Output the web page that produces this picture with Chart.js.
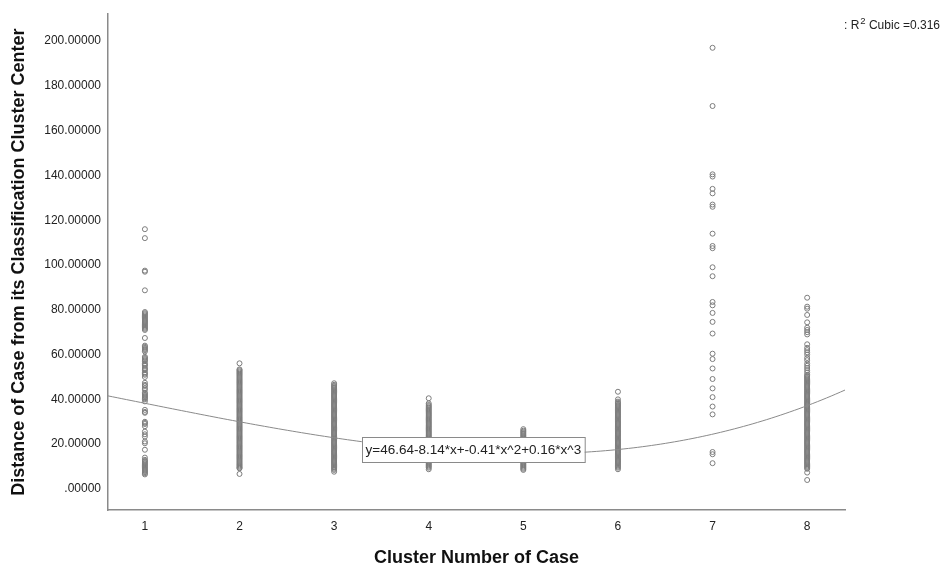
<!DOCTYPE html>
<html>
<head>
<meta charset="utf-8">
<script src="https://cdn.jsdelivr.net/npm/chart.js@4.4.1/dist/chart.umd.min.js"></script>
<style>
  html, body { margin: 0; padding: 0; background: #fff; overflow: hidden; }
  #wrap { width: 941px; height: 564px; }
</style>
</head>
<body>
<div id="wrap"><canvas id="scatterChart" width="941" height="564"></canvas></div>
<script>
// cluster numbers on the x axis
const clusters = [1, 2, 3, 4, 5, 6, 7, 8];
const yTicks = [0, 20, 40, 60, 80, 100, 120, 140, 160, 180, 200];

// distance of each case from its cluster centre
const cluster1 = [116, 112, 97.5, 97, 88.7, 79, 78.5, 78, 77.5, 77, 76.5, 76, 75.5, 75, 74.5, 74, 73.5, 73, 72.5, 72, 71.5, 71,
  67.4, 64, 63.5, 63, 62.5, 62, 61.4, 59, 58.5, 58, 57.5, 57, 56, 55.5, 55, 54, 53.5, 53, 52, 51.5, 51, 50, 47.4, 46.5, 46, 45, 44.3,
  43, 42.5, 42, 41.5, 41, 40.5, 40, 39.1, 35.3, 34.4, 34, 30, 29.5, 29, 28, 25.6, 24.4, 23.4, 21.2, 20.4, 17.5,
  14, 13, 12.5, 12, 11.5, 11, 10.5, 10, 9.5, 9, 8.5, 8, 7.5, 7, 6.5];
const cluster2 = [6.7, 9.2, 9.5, 10, 10.5, 11, 11.5, 12, 12.5, 13, 13.5, 14, 14.5, 15, 15.5, 16, 16.5, 17, 17.5, 18, 18.5,
  19, 19.5, 20, 20.5, 21, 21.5, 22, 22.5, 23, 23.5, 24, 24.5, 25, 25.5, 26, 26.5, 27, 27.5, 28, 28.5, 29, 29.5,
  30, 30.5, 31, 31.5, 32, 32.5, 33, 33.5, 34, 34.5, 35, 35.5, 36, 36.5, 37, 37.5, 38, 38.5, 39, 39.5, 40, 40.5,
  41, 41.5, 42, 42.5, 43, 43.5, 44, 44.5, 45, 45.5, 46, 46.5, 47, 47.5, 48, 48.5, 49, 49.5, 50, 50.5, 51, 51.5,
  52, 52.5, 53, 53.4, 56.1];
const cluster3 = [7.7, 8.5, 9, 9.5, 10, 10.5, 11, 11.5, 12, 12.5, 13, 13.5, 14, 14.5, 15, 15.5, 16, 16.5, 17, 17.5, 18, 18.5,
  19, 19.5, 20, 20.5, 21, 21.5, 22, 22.5, 23, 23.5, 24, 24.5, 25, 25.5, 26, 26.5, 27, 27.5, 28, 28.5, 29, 29.5,
  30, 30.5, 31, 31.5, 32, 32.5, 33, 33.5, 34, 34.5, 35, 35.5, 36, 36.5, 37, 37.5, 38, 38.5, 39, 39.5, 40, 40.5,
  41, 41.5, 42, 42.5, 43, 43.5, 44, 44.5, 45, 45.5, 46, 46.5, 47.2];
const cluster4 = [8.8, 9.5, 10, 10.5, 11, 11.5, 12, 12.5, 13, 13.5, 14, 14.5, 15, 15.5, 16, 16.5, 17, 17.5, 18, 18.5,
  19, 19.5, 20, 20.5, 21, 21.5, 22, 22.5, 23, 23.5, 24, 24.5, 25, 25.5, 26, 26.5, 27, 27.5, 28, 28.5, 29, 29.5,
  30, 30.5, 31, 31.5, 32, 32.5, 33, 33.5, 34, 34.5, 35, 35.5, 36, 36.5, 37, 37.5, 38.2, 40.5];
const cluster5 = [8.5, 9, 9.5, 10, 10.5, 11, 11.5, 12, 12.5, 13, 13.5, 14, 14.5, 15, 15.5, 16, 16.5, 17, 17.5, 18, 18.5,
  19, 19.5, 20, 20.5, 21, 21.5, 22, 22.5, 23, 23.5, 24, 24.5, 25, 25.5, 26, 26.7];
const cluster6 = [8.8, 9.5, 10, 10.5, 11, 11.5, 12, 12.5, 13, 13.5, 14, 14.5, 15, 15.5, 16, 16.5, 17, 17.5, 18, 18.5,
  19, 19.5, 20, 20.5, 21, 21.5, 22, 22.5, 23, 23.5, 24, 24.5, 25, 25.5, 26, 26.5, 27, 27.5, 28, 28.5, 29, 29.5,
  30, 30.5, 31, 31.5, 32, 32.5, 33, 33.5, 34, 34.5, 35, 35.5, 36, 36.5, 37, 37.5, 38, 38.5, 39, 40, 43.4];
const cluster7 = [197, 171, 140.5, 139.5, 134, 132, 127, 126, 114, 108.5, 107.5, 99, 95, 83.5, 82, 78.6,
  74.6, 69.4, 60.4, 58, 53.8, 49.1, 44.9, 41, 36.8, 33.3, 16.5, 15.5, 11.5];
const cluster8 = [4, 7.3, 9, 9.5, 10, 10.5, 11, 11.5, 12, 12.5, 13, 13.5, 14, 14.5, 15, 15.5, 16, 16.5, 17, 17.5, 18, 18.5,
  19, 19.5, 20, 20.5, 21, 21.5, 22, 22.5, 23, 23.5, 24, 24.5, 25, 25.5, 26, 26.5, 27, 27.5, 28, 28.5, 29, 29.5,
  30, 30.5, 31, 31.5, 32, 32.5, 33, 33.5, 34, 34.5, 35, 35.5, 36, 36.5, 37, 37.5, 38, 38.5, 39, 39.5, 40, 40.5,
  41, 41.5, 42, 42.5, 43, 43.5, 44, 44.5, 45, 45.5, 46, 46.5, 47, 47.5, 48, 48.5, 49, 49.5, 50, 50.5, 51, 52,
  53, 54, 55, 56, 57.5, 58.5, 60, 61, 62, 63, 64.6, 69, 70, 71, 72, 74.4, 77.7, 80.5, 81.4, 85.4];
const clusterValues = [cluster1, cluster2, cluster3, cluster4, cluster5, cluster6, cluster7, cluster8];

// cubic fit as printed on the chart
const fitCoef = [46.64, -8.14, -0.41, 0.16];
const fitLabel = 'y=46.64-8.14*x+-0.41*x^2+0.16*x^3';
const rsqText = 'Cubic =0.316';

const xMin = 0.61, xMax = 8.4;
const FONT = '"Liberation Sans", Arial, sans-serif';

function fitAt(x) {
  return fitCoef[0] + fitCoef[1] * x + fitCoef[2] * x * x + fitCoef[3] * x * x * x;
}

const fitPoints = [];
const nSteps = 160;
for (let i = 0; i <= nSteps; i++) {
  const x = xMin + (xMax - xMin) * i / nSteps;
  fitPoints.push({ x: x, y: fitAt(x) });
}

const datasets = [{
  type: 'line',
  data: fitPoints,
  borderColor: '#8a8a8a',
  borderWidth: 1,
  pointRadius: 0,
  fill: false
}];
clusterValues.forEach(function (vals, i) {
  datasets.push({
    type: 'scatter',
    data: vals.map(function (v) { return { x: clusters[i], y: v }; }),
    pointStyle: 'circle',
    pointRadius: 2.5,
    borderWidth: 1,
    borderColor: '#7c7c7c',
    backgroundColor: 'rgba(0,0,0,0)'
  });
});

const labelPlugin = {
  id: 'labelPlugin',
  afterDraw(chart) {
    const ctx = chart.ctx;
    const xs = chart.scales.x, ys = chart.scales.y;
    ctx.save();
    // equation box
    ctx.font = '13.5px ' + FONT;
    const w = ctx.measureText(fitLabel).width + 7;
    const left = Math.round(xs.getPixelForValue(3.3));
    const top = Math.round(ys.getPixelForValue(23.1));
    ctx.fillStyle = '#fff';
    ctx.fillRect(left, top, w, 25);
    ctx.strokeStyle = '#8a8a8a';
    ctx.lineWidth = 1;
    ctx.strokeRect(left + 0.5, top + 0.5, w, 25);
    ctx.fillStyle = '#222';
    ctx.textBaseline = 'middle';
    ctx.fillText(fitLabel, left + 3.5, top + 13);
    // R squared note, top right
    ctx.textBaseline = 'alphabetic';
    let x = 844;
    const base = 29;
    ctx.font = '12px ' + FONT;
    ctx.fillText(': R', x, base);
    x += ctx.measureText(': R').width + 1;
    ctx.font = '9.5px ' + FONT;
    ctx.fillText('2', x, base - 5);
    x += ctx.measureText('2').width;
    ctx.font = '12px ' + FONT;
    ctx.fillText(' ' + rsqText, x, base);
    ctx.restore();
  }
};

new Chart(document.getElementById('scatterChart').getContext('2d'), {
  data: { datasets: datasets },
  options: {
    responsive: false,
    animation: false,
    devicePixelRatio: 1,
    layout: { padding: { top: 14, right: 96, left: 0, bottom: 0 } },
    plugins: { legend: { display: false }, tooltip: { enabled: false } },
    scales: {
      x: {
        type: 'linear',
        min: xMin,
        max: xMax,
        afterFit: function (s) { s.height = 54; },
        afterBuildTicks: function (s) { s.ticks = clusters.map(function (v) { return { value: v }; }); },
        grid: { display: false, drawTicks: false },
        border: { display: true, color: '#8a8a8a', width: 1.5 },
        ticks: {
          padding: 9,
          color: '#222',
          font: { family: FONT, size: 12 },
          callback: function (v) { return String(v); }
        },
        title: {
          display: true,
          text: 'Cluster Number of Case',
          color: '#111',
          font: { family: FONT, size: 18, weight: 'bold' },
          padding: { top: 0, bottom: -5 }
        }
      },
      y: {
        type: 'linear',
        min: -9.4,
        max: 212,
        afterFit: function (s) { s.width = 108; },
        afterBuildTicks: function (s) { s.ticks = yTicks.map(function (v) { return { value: v }; }); },
        grid: { display: false, drawTicks: false },
        border: { display: true, color: '#8a8a8a', width: 1.5 },
        ticks: {
          padding: 7,
          color: '#222',
          font: { family: FONT, size: 12 },
          callback: function (v) { return v === 0 ? '.00000' : v.toFixed(5); }
        },
        title: {
          display: true,
          text: 'Distance of Case from its Classification Cluster Center',
          color: '#111',
          font: { family: FONT, size: 18, weight: 'bold' },
          padding: { top: 8, bottom: 0 }
        }
      }
    }
  },
  plugins: [labelPlugin]
});
</script>
</body>
</html>
